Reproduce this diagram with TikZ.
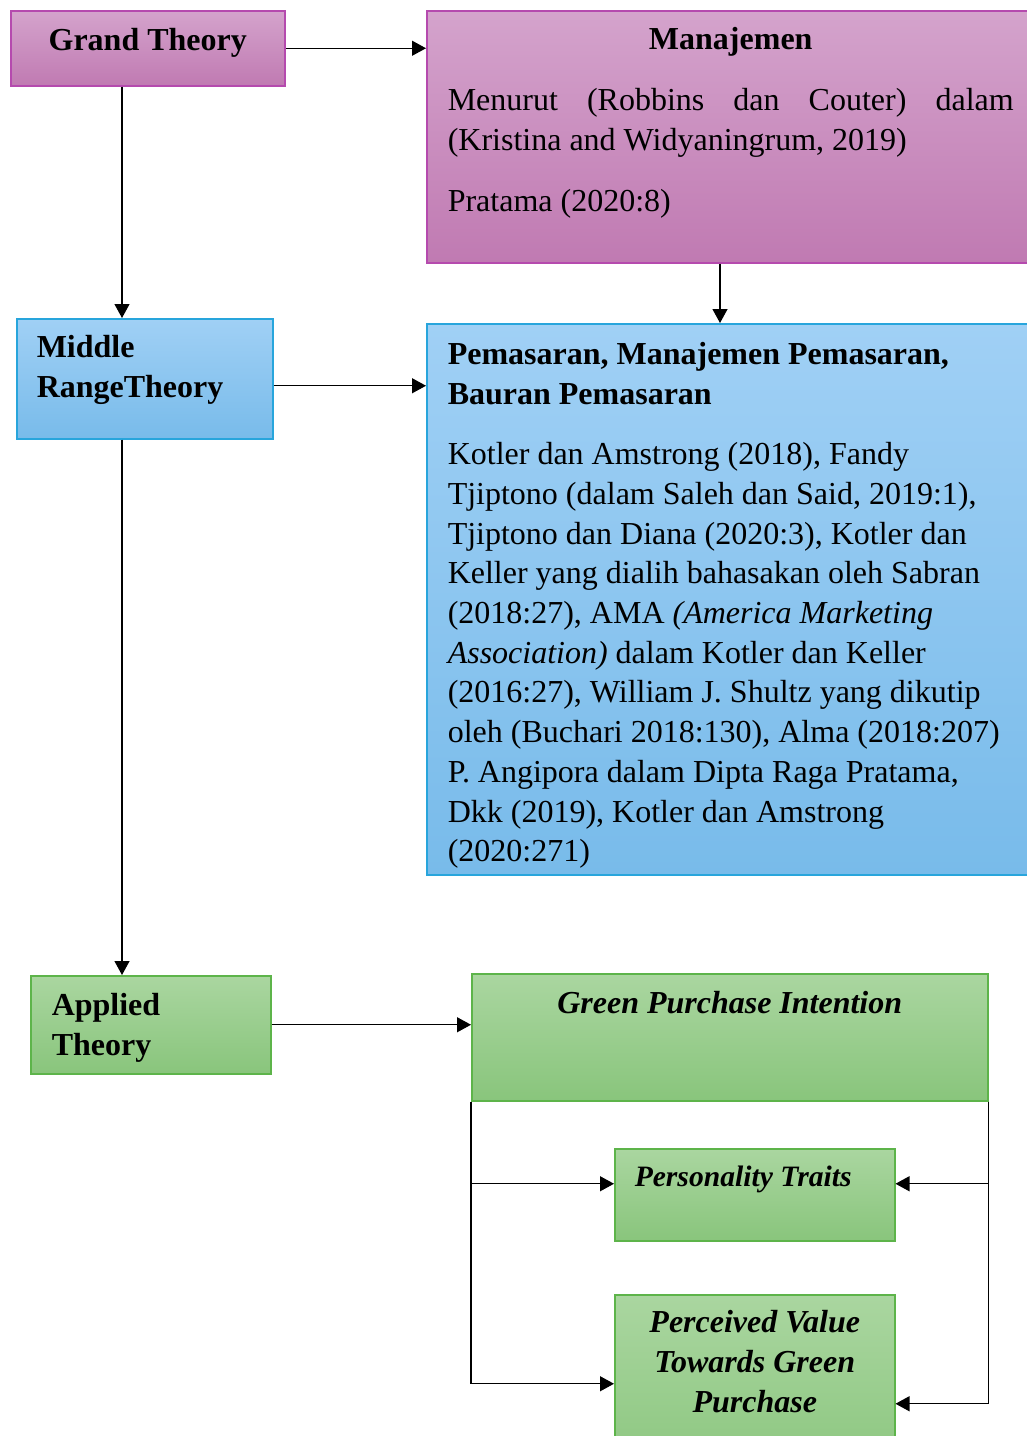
\documentclass[tikz,border=0pt]{standalone}
\usepackage{fontspec}
\setmainfont{Liberation Serif}
\usetikzlibrary{arrows.meta}

\definecolor{grandtop}{RGB}{212,163,204}
\definecolor{grandbot}{RGB}{192,122,178}
\definecolor{grandline}{RGB}{181,74,174}
\definecolor{middletop}{RGB}{160,208,245}
\definecolor{middlebot}{RGB}{120,187,234}
\definecolor{middleline}{RGB}{40,165,220}
\definecolor{appliedtop}{RGB}{170,214,160}
\definecolor{appliedbot}{RGB}{137,197,124}
\definecolor{appliedline}{RGB}{93,180,74}

\newcommand{\boxfont}{\fontsize{16pt}{19.85pt}\selectfont}
\newcommand{\smallboxfont}{\fontsize{14.8pt}{19.85pt}\selectfont}
\newcommand{\plainspace}{\spaceskip=0pt\xspaceskip=0pt}

\tikzstyle{theorybox} = [rectangle, anchor=north west, inner ysep=0pt, line width=0.75pt, font=\boxfont, execute at begin node=\plainspace]
\tikzstyle{grandbox} = [theorybox, draw=grandline, top color=grandtop, bottom color=grandbot]
\tikzstyle{middlebox} = [theorybox, draw=middleline, top color=middletop, bottom color=middlebot]
\tikzstyle{appliedbox} = [theorybox, draw=appliedline, top color=appliedtop, bottom color=appliedbot]
\tikzstyle{arrow} = [line width=0.6pt, -{Triangle[length=7pt,width=7.5pt]}]

\begin{document}
\begin{tikzpicture}[x=0.5pt, y=-0.5pt]

\useasboundingbox (0,0) rectangle (1027,1436);
\clip (0,0) rectangle (1027,1436);

% Grand theory row
\node (grand) [grandbox, inner xsep=5pt, text width=127pt, align=flush center, text height=20pt, text depth=17.5pt] at (10,10) {\textbf{Grand Theory}};
\node (manaj) [grandbox, inner xsep=10.5pt, text width=283pt, align=left, text height=19.5pt, text depth=106.5pt] at (426,10)
  {\makebox[\linewidth]{\bfseries Manajemen}\\[10.65pt]
   \makebox[\linewidth][s]{Menurut (Robbins dan Couter) dalam}\\
   (Kristina and Widyaningrum, 2019)\\[10.65pt]
   Pratama (2020:8)};

% Middle range theory row
\node (mid) [middlebox, inner xsep=10pt, text width=108pt, align=left, text height=19.5pt, text depth=40.5pt] at (16,318) {\textbf{Middle}\\\textbf{RangeTheory}};
\node (pem) [middlebox, inner xsep=10.5pt, text width=283pt, align=left, text height=20.5pt, text depth=255pt] at (426,323)
  {\textbf{Pemasaran, Manajemen Pemasaran,}\\
   \textbf{Bauran Pemasaran}\\[10.3pt]
   Kotler dan Amstrong (2018), Fandy\\
   Tjiptono (dalam Saleh dan Said, 2019:1),\\
   Tjiptono dan Diana (2020:3), Kotler dan\\
   Keller yang dialih bahasakan oleh Sabran\\
   (2018:27), AMA \textit{(America Marketing}\\
   \textit{Association)} dalam Kotler dan Keller\\
   (2016:27), William J. Shultz yang dikutip\\
   oleh (Buchari 2018:130), Alma (2018:207)\\
   P. Angipora dalam Dipta Raga Pratama,\\
   Dkk (2019), Kotler dan Amstrong\\
   (2020:271)};

% Applied theory row
\node (app) [appliedbox, inner xsep=10.5pt, text width=99pt, align=left, text height=20pt, text depth=29pt] at (30,975) {\textbf{Applied}\\\textbf{Theory}};
\node (gpi) [appliedbox, inner xsep=5pt, text width=248pt, align=flush center, text height=20pt, text depth=43.5pt] at (471,973) {\textbf{\textit{Green Purchase Intention}}};
\node (pers) [appliedbox, font=\smallboxfont, inner xsep=10pt, text width=120pt, align=left, text height=19pt, text depth=27pt] at (614,1148) {\textbf{\textit{Personality Traits}}};
\node (perc) [appliedbox, inner xsep=5pt, text width=130pt, align=flush center, text height=19pt, text depth=79pt] at (614,1294)
  {\textbf{\textit{Perceived Value}}\\\textbf{\textit{Towards Green}}\\\textbf{\textit{Purchase}}};

\coordinate (spine) at (122,0);
\coordinate (drop) at (720,0);

% Connecting arrows
\draw [arrow] (grand.east) -- (grand.east -| manaj.west);
\draw [arrow] (grand.south -| spine) -- (mid.north -| spine);
\draw [arrow] (manaj.south -| drop) -- (pem.north -| drop);
\draw [arrow] ([yshift=-3.5pt]mid.east) -- ([yshift=-3.5pt]mid.east -| pem.west);
\draw [arrow] (mid.south -| spine) -- (app.north -| spine);
\draw [arrow] (app.east) -- (app.east -| gpi.west);

\draw [arrow] (gpi.south west) |- ([yshift=4.5pt]perc.west);
\draw [arrow] ([yshift=5.5pt]pers.west -| gpi.west) -- ([yshift=5.5pt]pers.west);
\draw [arrow] (gpi.south east) |- ([yshift=-5.5pt]perc.east);
\draw [arrow] ([yshift=5.5pt]pers.east -| gpi.east) -- ([yshift=5.5pt]pers.east);

\end{tikzpicture}
\end{document}
